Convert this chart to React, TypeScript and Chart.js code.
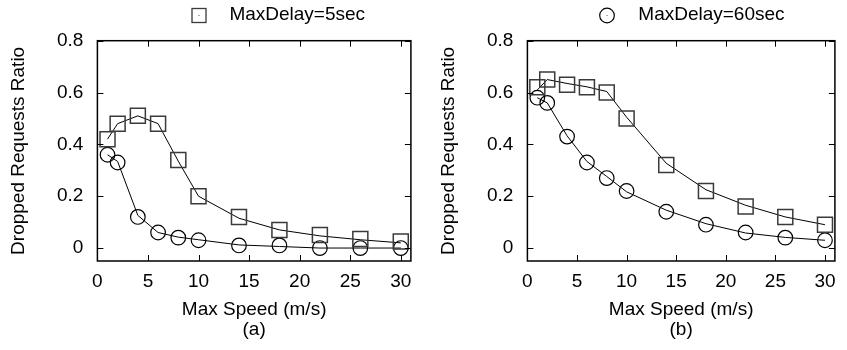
import React, { useEffect, useRef } from 'react';
import { Chart, registerables } from 'chart.js';

Chart.register(...registerables);

// ---- data ----
const speeds = [1, 2, 4, 6, 8, 10, 14, 18, 22, 26, 30];
const xTicks = [0, 5, 10, 15, 20, 25, 30];
const yTicks = [0, 0.2, 0.4, 0.6, 0.8];

// panel (a)
const a5Points = [0.42, 0.48, 0.51, 0.48, 0.34, 0.2, 0.12, 0.07, 0.05, 0.035, 0.025];
const a5Fit = [0.42, 0.48, 0.51, 0.48, 0.335, 0.2, 0.115, 0.07, 0.047, 0.032, 0.02];
const a60Points = [0.36, 0.33, 0.12, 0.06, 0.04, 0.03, 0.01, 0.01, 0, 0, 0];
const a60Fit = [0.36, 0.334, 0.126, 0.06, 0.042, 0.032, 0.012, 0.006, 0, 0, 0];

// panel (b)
const b5Points = [0.62, 0.65, 0.63, 0.62, 0.6, 0.5, 0.32, 0.22, 0.16, 0.12, 0.09];
const b5Fit = [0.61, 0.65, 0.635, 0.622, 0.604, 0.505, 0.327, 0.225, 0.165, 0.12, 0.09];
const b60Points = [0.58, 0.56, 0.43, 0.33, 0.27, 0.22, 0.14, 0.09, 0.06, 0.04, 0.03];
const b60Fit = [0.58, 0.56, 0.433, 0.334, 0.276, 0.217, 0.146, 0.094, 0.058, 0.041, 0.03];

const FONT = "'Liberation Sans', Arial, Helvetica, sans-serif";

const framePlugin = {
  id: 'gnuFrame',
  afterDatasetsDraw(chart: any) {
    const { ctx, chartArea: ca, scales } = chart;
    const tl = 6;
    ctx.save();
    ctx.strokeStyle = '#000';
    ctx.lineWidth = 1;
    ctx.beginPath();
    xTicks.forEach((v) => {
      const px = Math.round(scales.x.getPixelForValue(v)) + 0.5;
      ctx.moveTo(px, ca.bottom);
      ctx.lineTo(px, ca.bottom - tl);
      ctx.moveTo(px, ca.top);
      ctx.lineTo(px, ca.top + tl);
    });
    yTicks.forEach((v) => {
      const py = Math.round(scales.y.getPixelForValue(v)) + 0.5;
      ctx.moveTo(ca.left, py);
      ctx.lineTo(ca.left + tl, py);
      ctx.moveTo(ca.right, py);
      ctx.lineTo(ca.right - tl, py);
    });
    ctx.stroke();
    ctx.lineWidth = 1.5;
    ctx.strokeRect(ca.left, ca.top, ca.right - ca.left, ca.bottom - ca.top);
    ctx.restore();
  },
};

const legendPlugin = {
  id: 'panelLegend',
  afterDraw(chart: any, _args: any, opts: any) {
    const { ctx, chartArea: ca } = chart;
    const mx = ca.left + opts.markerOffset;
    const tx = ca.left + opts.textOffset;
    ctx.save();
    if (opts.style === 'rect') {
      ctx.strokeStyle = '#3a3a3a';
      ctx.lineWidth = 1.3;
      ctx.strokeRect(mx - 7, opts.y - 7, 14, 14);
    } else {
      ctx.strokeStyle = '#000';
      ctx.lineWidth = 1.2;
      ctx.beginPath();
      ctx.arc(mx, opts.y, 7.3, 0, Math.PI * 2);
      ctx.stroke();
    }
    ctx.fillStyle = '#555';
    ctx.fillRect(mx - 0.5, opts.y - 0.5, 1, 1);
    ctx.fillStyle = '#000';
    ctx.font = `19px ${FONT}`;
    ctx.textBaseline = 'middle';
    ctx.textAlign = 'left';
    ctx.fillText(opts.text, tx, opts.y - 1);
    ctx.restore();
  },
};

type PanelParams = {
  fit5: number[];
  pts5: number[];
  fit60: number[];
  pts60: number[];
  caption: string;
  legendText: string;
  legendStyle: 'rect' | 'circle';
  padRight: number;
  markerOffset: number;
  textOffset: number;
};

function buildConfig(p: PanelParams): any {
  const toXY = (ys: number[]) => speeds.map((x, i) => ({ x, y: ys[i] }));
  const lineDs = (label: string, ys: number[]) => ({
    label,
    data: toXY(ys),
    showLine: true,
    borderColor: '#000',
    borderWidth: 1,
    pointRadius: 0,
    tension: 0,
    clip: false,
  });
  const font = { family: FONT, size: 19 };
  return {
    type: 'scatter',
    data: {
      datasets: [
        {
          label: 'MaxDelay=5sec',
          data: toXY(p.pts5),
          showLine: false,
          pointStyle: 'rect',
          pointRadius: 10.6,
          pointBorderColor: '#3a3a3a',
          pointBackgroundColor: 'rgba(0,0,0,0)',
          pointBorderWidth: 1.5,
          clip: false,
        },
        {
          label: 'MaxDelay=60sec',
          data: toXY(p.pts60),
          showLine: false,
          pointStyle: 'circle',
          pointRadius: 7.3,
          pointBorderColor: '#000',
          pointBackgroundColor: 'rgba(0,0,0,0)',
          pointBorderWidth: 1.2,
          clip: false,
        },
        lineDs('fit 5sec', p.fit5),
        lineDs('fit 60sec', p.fit60),
      ],
    },
    options: {
      responsive: false,
      animation: false,
      events: [],
      layout: { padding: { top: 40.7, right: p.padRight, left: 0, bottom: 0 } },
      plugins: {
        legend: { display: false },
        tooltip: { enabled: false },
        panelLegend: {
          text: p.legendText,
          style: p.legendStyle,
          markerOffset: p.markerOffset,
          textOffset: p.textOffset,
          y: 15.5,
        },
      },
      scales: {
        x: {
          type: 'linear',
          min: 0,
          max: 31,
          grid: { display: false, drawTicks: false },
          border: { display: false },
          afterBuildTicks: (s: any) => {
            s.ticks = xTicks.map((v) => ({ value: v }));
          },
          afterFit: (s: any) => {
            s.height = 89;
          },
          ticks: { padding: 9, autoSkip: false, maxRotation: 0, color: '#000', font },
          title: {
            display: true,
            text: ['Max Speed (m/s)', p.caption],
            color: '#000',
            font: { family: FONT, size: 19, lineHeight: '20px' },
            padding: { top: 0, bottom: 10 },
          },
        },
        y: {
          type: 'linear',
          min: -0.05,
          max: 0.8,
          grid: { display: false, drawTicks: false },
          border: { display: false },
          afterBuildTicks: (s: any) => {
            s.ticks = yTicks.map((v) => ({ value: v }));
          },
          afterFit: (s: any) => {
            s.width = 97.4;
          },
          ticks: {
            padding: 14,
            color: '#000',
            font,
            callback: (v: any) => String(Number(v)),
          },
          title: {
            display: true,
            text: 'Dropped Requests Ratio',
            color: '#000',
            font,
            padding: { top: 7.6, bottom: 0 },
          },
        },
      },
    },
    plugins: [framePlugin, legendPlugin],
  };
}

export default function App() {
  const leftRef = useRef<HTMLCanvasElement | null>(null);
  const rightRef = useRef<HTMLCanvasElement | null>(null);

  useEffect(() => {
    const charts: Chart[] = [];
    if (leftRef.current) {
      charts.push(
        new Chart(
          leftRef.current,
          buildConfig({
            fit5: a5Fit,
            pts5: a5Points,
            fit60: a60Fit,
            pts60: a60Points,
            caption: '(a)',
            legendText: 'MaxDelay=5sec',
            legendStyle: 'rect',
            padRight: 10,
            markerOffset: 101.6,
            textOffset: 132,
          })
        )
      );
    }
    if (rightRef.current) {
      charts.push(
        new Chart(
          rightRef.current,
          buildConfig({
            fit5: b5Fit,
            pts5: b5Points,
            fit60: b60Fit,
            pts60: b60Points,
            caption: '(b)',
            legendText: 'MaxDelay=60sec',
            legendStyle: 'circle',
            padRight: 4,
            markerOffset: 79.6,
            textOffset: 110.9,
          })
        )
      );
    }
    return () => charts.forEach((c) => c.destroy());
  }, []);

  return (
    <div style={{ position: 'absolute', left: 0, top: 0, width: 847, height: 350, background: '#fff' }}>
      <canvas ref={leftRef} width={423} height={350} style={{ position: 'absolute', left: 0, top: 0 }} />
      <canvas ref={rightRef} width={417} height={350} style={{ position: 'absolute', left: 430, top: 0 }} />
    </div>
  );
}
